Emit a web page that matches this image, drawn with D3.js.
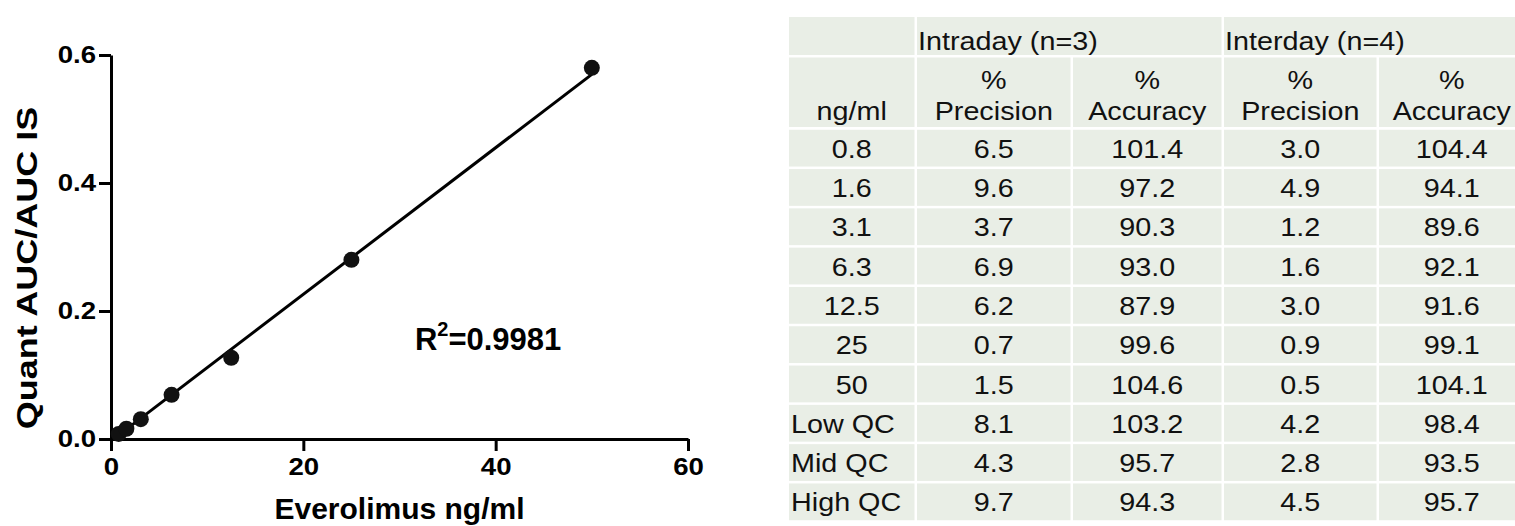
<!DOCTYPE html>
<meta charset="utf-8">
<style>
body { margin: 0; background: #fff; }
svg { display: block; }
.axis path, .axis line { stroke: #000; stroke-width: 3px; }
.axis text { font-family: "Liberation Sans", Arial, sans-serif; font-weight: bold; font-size: 24px; fill: #000; }
.title { font-family: "Liberation Sans", Arial, sans-serif; font-weight: bold; font-size: 30px; fill: #000; }
.fit { fill: none; stroke: #000; stroke-width: 3px; }
.dot { fill: #111; }
.cell { fill: #e9eee6; }
.tbl { font-family: "Liberation Sans", Arial, sans-serif; font-size: 25px; fill: #111; }
</style>
<svg width="1515" height="526"></svg>
<script src="https://cdn.jsdelivr.net/npm/d3@7"></script>
<script>

// calibration curve
var concentration = [0.8, 1.6, 3.1, 6.3, 12.5, 25, 50];
var aucRatio = [0.008, 0.016, 0.031, 0.069, 0.127, 0.28, 0.58];
var fitSlope = 0.01146, fitIntercept = -0.0032;
var rSquared = "0.9981";
var xTicks = [0, 20, 40, 60];
var yTicks = [0, 0.2, 0.4, 0.6];

// precision / accuracy table
var groupLabels = ["Intraday (n=3)", "Interday (n=4)"];
var metricLabels = ["Precision", "Accuracy"];
var rowLabels = ["0.8", "1.6", "3.1", "6.3", "12.5", "25", "50", "Low QC", "Mid QC", "High QC"];
var intraPrecision = ["6.5", "9.6", "3.7", "6.9", "6.2", "0.7", "1.5", "8.1", "4.3", "9.7"];
var intraAccuracy = ["101.4", "97.2", "90.3", "93.0", "87.9", "99.6", "104.6", "103.2", "95.7", "94.3"];
var interPrecision = ["3.0", "4.9", "1.2", "1.6", "3.0", "0.9", "0.5", "4.2", "2.8", "4.5"];
var interAccuracy = ["104.4", "94.1", "89.6", "92.1", "91.6", "99.1", "104.1", "98.4", "93.5", "95.7"];

var svg = d3.select("svg");
var sx = 1.15; // source image is stretched sideways a bit

var x = d3.scaleLinear().domain([0, 60]).range([111, 688]),
    y = d3.scaleLinear().domain([0, 0.6]).range([439, 55]);

var yAxis = svg.append("g")
    .attr("class", "axis")
    .attr("transform", "translate(" + x(0) + ",0)")
    .call(d3.axisLeft(y).tickValues(yTicks).tickFormat(d3.format(".1f"))
      .tickSize(12).tickSizeOuter(0).tickPadding(3));
yAxis.selectAll("text")
    .attr("x", -15 / sx)
    .attr("transform", "scale(" + sx + ",1)");

var xAxis = svg.append("g")
    .attr("class", "axis")
    .attr("transform", "translate(0," + y(0) + ")")
    .call(d3.axisBottom(x).tickValues(xTicks).tickFormat(d3.format("d"))
      .tickSize(12).tickSizeOuter(0).tickPadding(7));
xAxis.selectAll("text")
    .attr("transform", "scale(" + sx + ",1)");

svg.append("text")
    .attr("class", "title")
    .attr("text-anchor", "middle")
    .attr("transform", "translate(" + ((x(0) + x(60)) / 2) + ",519)")
    .text("Everolimus ng/ml");

svg.append("text")
    .attr("class", "title")
    .attr("text-anchor", "middle")
    .attr("transform", "translate(37,268) rotate(-90) scale(1.2,1)")
    .text("Quant AUC/AUC IS");

// fitted line over the measured range
var xr = d3.extent(concentration);
svg.append("path")
    .attr("class", "fit")
    .attr("d", d3.line()
      .x(function(d) { return x(d); })
      .y(function(d) { return y(fitSlope * d + fitIntercept); })(xr));

svg.selectAll(".dot")
    .data(concentration)
  .enter().append("circle")
    .attr("class", "dot")
    .attr("cx", function(d) { return x(d); })
    .attr("cy", function(d, i) { return y(aucRatio[i]); })
    .attr("r", 8);

var r2 = svg.append("text")
    .attr("class", "title")
    .style("font-size", "31px")
    .attr("x", x(31.6))
    .attr("y", y(0.139));
r2.append("tspan").text("R");
r2.append("tspan").attr("dy", -14).style("font-size", "20px").text("2");
r2.append("tspan").attr("dy", 14).text("=" + rSquared);

// ---- table ----
var colX = [789, 917, 1073, 1224, 1379, 1527],
    gap = 2.5,
    head1 = [17, 55],
    head2 = [57.5, 127];

var rows = d3.scaleBand().domain(rowLabels).range([129.75, 522.75]);

var columns = [rowLabels, intraPrecision, intraAccuracy, interPrecision, interAccuracy];

var tbl = svg.append("g");

function cellText(cx, by, txt, anchor) {
  tbl.append("text")
      .attr("class", "tbl")
      .attr("text-anchor", anchor || "middle")
      .attr("transform", "translate(" + cx + "," + by + ") scale(" + sx + ",1)")
      .text(txt);
}

// first header row: empty corner + two merged group cells
tbl.append("rect").attr("class", "cell")
    .attr("x", colX[0]).attr("y", head1[0])
    .attr("width", colX[1] - colX[0] - gap).attr("height", head1[1] - head1[0]);
groupLabels.forEach(function(g, i) {
  var c0 = colX[1 + i * 2], c1 = colX[3 + i * 2];
  tbl.append("rect").attr("class", "cell")
      .attr("x", c0).attr("y", head1[0])
      .attr("width", c1 - c0 - gap).attr("height", head1[1] - head1[0]);
  cellText(c0 + 1, head1[0] + 33, g, "start");
});

// second header row
for (var c = 0; c < 5; c++) {
  var w = colX[c + 1] - colX[c] - gap;
  tbl.append("rect").attr("class", "cell")
      .attr("x", colX[c]).attr("y", head2[0])
      .attr("width", w).attr("height", head2[1] - head2[0]);
  var mid = colX[c] + w / 2;
  if (c === 0) {
    cellText(mid, 120, "ng/ml");
  } else {
    cellText(mid, 89, "%");
    cellText(mid, 120, metricLabels[(c - 1) % 2]);
  }
}

// data rows
columns.forEach(function(col, c) {
  var w = colX[c + 1] - colX[c] - gap;
  col.forEach(function(v, i) {
    var top = rows(rowLabels[i]);
    tbl.append("rect").attr("class", "cell")
        .attr("x", colX[c]).attr("y", top)
        .attr("width", w).attr("height", rows.bandwidth() - gap);
    if (c === 0 && isNaN(+v)) cellText(colX[c] + 2, top + 28, v, "start");
    else cellText(colX[c] + w / 2, top + 28, v);
  });
});

</script>
